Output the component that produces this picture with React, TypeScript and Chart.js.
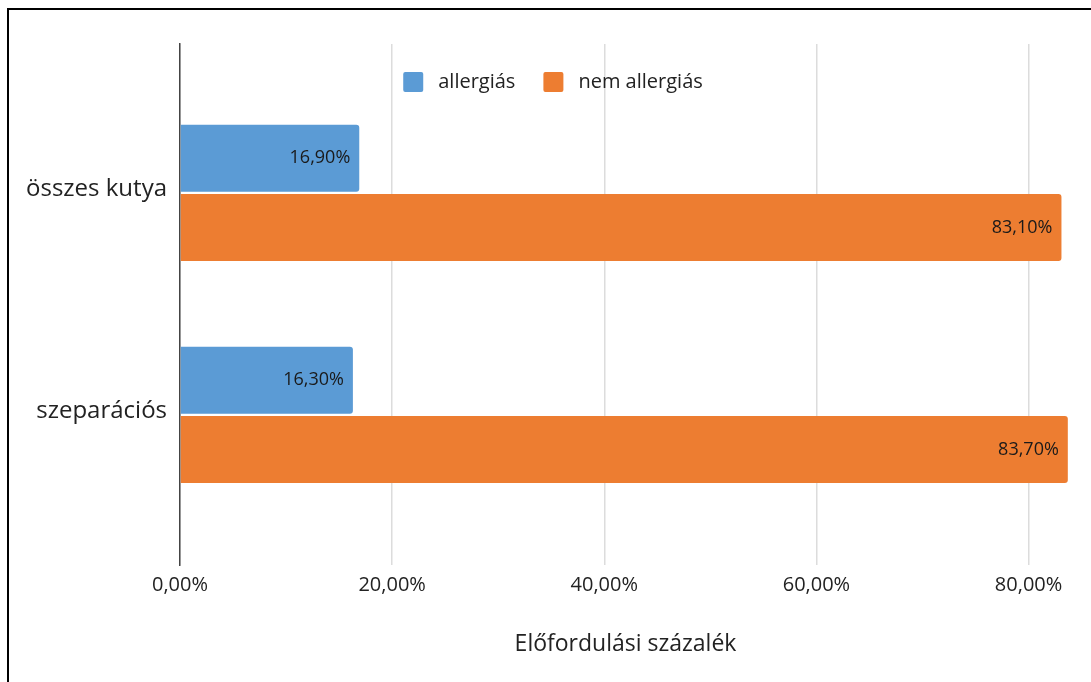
import React, { useEffect, useRef } from "react";
import { Chart, registerables } from "chart.js";

Chart.register(...registerables);

const categories = ["összes kutya", "szeparációs"];
const seriesNames = ["allergiás", "nem allergiás"];
const allergias = [16.9, 16.3];
const nemAllergias = [83.1, 83.7];
const xTickValues = [0, 20, 40, 60, 80];
const xAxisTitle = "Előfordulási százalék";
const colors = ["#5B9BD5", "#ED7D31"];

const fmt = (v: number) => v.toFixed(2).replace(".", ",") + "%";

const legendPlugin = {
  id: "insideLegend",
  afterDraw(chart: any) {
    const ctx = chart.ctx;
    ctx.save();
    ctx.font = '20px "Open Sans"';
    const items = chart.data.datasets.map((ds: any) => ({
      label: ds.label,
      color: ds.backgroundColor,
      w: ctx.measureText(ds.label).width,
    }));
    const box = 20;
    const gapText = 15;
    const gapItem = 28;
    const total =
      items.reduce((s: number, it: any) => s + box + gapText + it.w, 0) +
      gapItem * (items.length - 1);
    let x = chart.width / 2 + 3 - total / 2;
    const y = chart.chartArea.top + 38;
    ctx.textBaseline = "middle";
    ctx.textAlign = "left";
    for (const it of items) {
      ctx.fillStyle = it.color;
      ctx.beginPath();
      (ctx as any).roundRect(x, y - box / 2, box, box, 2);
      ctx.fill();
      ctx.fillStyle = "#222";
      ctx.fillText(it.label, x + box + gapText, y);
      x += box + gapText + it.w + gapItem;
    }
    ctx.restore();
  },
};

const valueLabelPlugin = {
  id: "valueLabels",
  afterDatasetsDraw(chart: any) {
    const ctx = chart.ctx;
    ctx.save();
    ctx.font = '18px "Open Sans"';
    ctx.fillStyle = "#1a1a1a";
    ctx.textAlign = "right";
    ctx.textBaseline = "middle";
    chart.data.datasets.forEach((ds: any, di: number) => {
      const meta = chart.getDatasetMeta(di);
      meta.data.forEach((el: any, i: number) => {
        const v = ds.data[i].x;
        ctx.fillText(fmt(v), el.x - 9, el.y);
      });
    });
    ctx.restore();
  },
};

export default function App() {
  const ref = useRef<HTMLCanvasElement | null>(null);

  useEffect(() => {
    if (!ref.current) return;
    const toPoints = (vals: number[]) => vals.map((v, i) => ({ x: v, y: i }));
    const chart = new Chart(ref.current, {
      type: "bar",
      data: {
        datasets: [
          {
            label: seriesNames[0],
            data: toPoints(allergias) as any,
            backgroundColor: colors[0],
            borderRadius: 3,
            categoryPercentage: 0.624,
            barPercentage: 0.967,
          },
          {
            label: seriesNames[1],
            data: toPoints(nemAllergias) as any,
            backgroundColor: colors[1],
            borderRadius: 3,
            categoryPercentage: 0.624,
            barPercentage: 0.967,
          },
        ],
      },
      options: {
        indexAxis: "y",
        animation: false,
        responsive: true,
        maintainAspectRatio: false,
        layout: { padding: { top: 34, right: 20, left: 0, bottom: 0 } },
        plugins: {
          legend: { display: false },
          tooltip: { enabled: false },
        },
        scales: {
          x: {
            type: "linear",
            min: 0,
            max: 84,
            afterBuildTicks: (scale: any) => {
              scale.ticks = xTickValues.map((v) => ({ value: v }));
            },
            afterFit: (scale: any) => {
              scale.height = 117;
            },
            grid: {
              color: "#dcdcdc",
              lineWidth: 1.5,
              drawTicks: false,
            },
            border: { display: false },
            ticks: {
              padding: 8,
              color: "#222",
              font: { family: "Open Sans", size: 20 },
              callback: (v: any) => fmt(Number(v)),
            },
            title: {
              display: true,
              text: xAxisTitle,
              color: "#222",
              font: { family: "Open Sans", size: 23 },
              padding: { top: 0, bottom: 24 },
            },
          },
          y: {
            type: "linear",
            reverse: true,
            offset: false,
            min: -0.671,
            max: 1.676,
            afterBuildTicks: (scale: any) => {
              scale.ticks = categories.map((_, i) => ({ value: i }));
            },
            afterFit: (scale: any) => {
              scale.width = 171;
            },
            grid: { display: false, drawTicks: false, offset: false },
            border: { display: true, color: "#444", width: 1.5 },
            ticks: {
              padding: 13,
              labelOffset: -4,
              color: "#222",
              font: { family: "Open Sans", size: 24 },
              callback: (v: any) => categories[Number(v)] ?? "",
            },
          },
        },
      },
      plugins: [valueLabelPlugin, legendPlugin],
    });
    return () => chart.destroy();
  }, []);

  return (
    <div
      style={{
        position: "fixed",
        left: 7,
        top: 8,
        width: 1110,
        height: 700,
        borderLeft: "2px solid #000",
        borderTop: "2px solid #000",
        boxSizing: "border-box",
        background: "#fff",
      }}
    >
      <div style={{ position: "relative", width: 1082, height: 672 }}>
        <canvas ref={ref} />
      </div>
    </div>
  );
}
